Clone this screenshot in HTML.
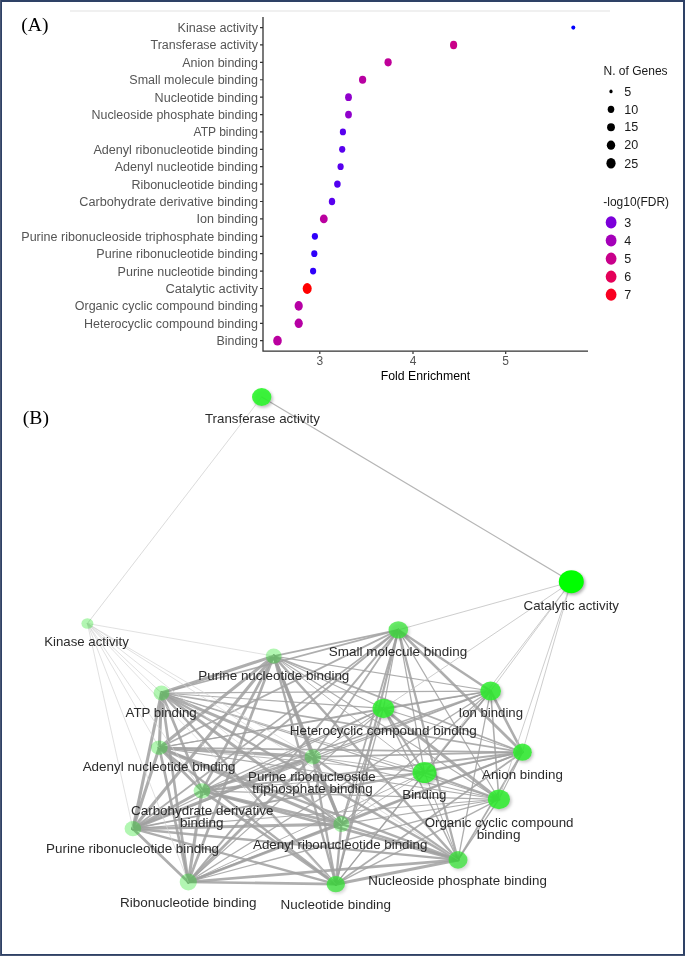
<!DOCTYPE html><html><head><meta charset="utf-8"><style>html,body{margin:0;padding:0;background:#fff;overflow:hidden}svg{display:block;will-change:transform}</style></head><body>
<svg width="685" height="956" viewBox="0 0 685 956">
<defs><filter id="bl" x="-50%" y="-50%" width="200%" height="200%"><feGaussianBlur stdDeviation="1.5"/></filter><filter id="sh" x="-50%" y="-50%" width="200%" height="200%"><feDropShadow dx="1.6" dy="1.8" stdDeviation="1.4" flood-color="#000" flood-opacity="0.28"/></filter></defs>
<rect x="0" y="0" width="685" height="956" fill="#fff"/>
<rect x="70" y="10" width="540" height="2" fill="#f0f0f0"/>
<g stroke="#333" stroke-width="1.3" fill="none"><path d="M263 17 V351.2 H588"/></g>
<path d="M260 27.54H263M260 44.94H263M260 62.34H263M260 79.73H263M260 97.13H263M260 114.53H263M260 131.93H263M260 149.33H263M260 166.72H263M260 184.12H263M260 201.52H263M260 218.92H263M260 236.32H263M260 253.71H263M260 271.11H263M260 288.51H263M260 305.91H263M260 323.31H263M260 340.70H263" stroke="#333" stroke-width="1.2"/>
<path d="M319.8 351.5V354M413.0 351.5V354M505.7 351.5V354" stroke="#333" stroke-width="1.2"/>
<g font-family="Liberation Sans, sans-serif" font-size="12.0" fill="#555555">
<text x="258" y="32.09" text-anchor="end" textLength="80.5" lengthAdjust="spacingAndGlyphs">Kinase activity</text>
<text x="258" y="49.49" text-anchor="end" textLength="107.5" lengthAdjust="spacingAndGlyphs">Transferase activity</text>
<text x="258" y="66.89" text-anchor="end" textLength="75.8" lengthAdjust="spacingAndGlyphs">Anion binding</text>
<text x="258" y="84.28" text-anchor="end" textLength="128.7" lengthAdjust="spacingAndGlyphs">Small molecule binding</text>
<text x="258" y="101.68" text-anchor="end" textLength="103.4" lengthAdjust="spacingAndGlyphs">Nucleotide binding</text>
<text x="258" y="119.08" text-anchor="end" textLength="166.5" lengthAdjust="spacingAndGlyphs">Nucleoside phosphate binding</text>
<text x="258" y="136.48" text-anchor="end" textLength="64.5" lengthAdjust="spacingAndGlyphs">ATP binding</text>
<text x="258" y="153.88" text-anchor="end" textLength="164.6" lengthAdjust="spacingAndGlyphs">Adenyl ribonucleotide binding</text>
<text x="258" y="171.27" text-anchor="end" textLength="143.3" lengthAdjust="spacingAndGlyphs">Adenyl nucleotide binding</text>
<text x="258" y="188.67" text-anchor="end" textLength="126.6" lengthAdjust="spacingAndGlyphs">Ribonucleotide binding</text>
<text x="258" y="206.07" text-anchor="end" textLength="178.7" lengthAdjust="spacingAndGlyphs">Carbohydrate derivative binding</text>
<text x="258" y="223.47" text-anchor="end" textLength="61.4" lengthAdjust="spacingAndGlyphs">Ion binding</text>
<text x="258" y="240.87" text-anchor="end" textLength="236.7" lengthAdjust="spacingAndGlyphs">Purine ribonucleoside triphosphate binding</text>
<text x="258" y="258.26" text-anchor="end" textLength="161.7" lengthAdjust="spacingAndGlyphs">Purine ribonucleotide binding</text>
<text x="258" y="275.66" text-anchor="end" textLength="140.4" lengthAdjust="spacingAndGlyphs">Purine nucleotide binding</text>
<text x="258" y="293.06" text-anchor="end" textLength="92.5" lengthAdjust="spacingAndGlyphs">Catalytic activity</text>
<text x="258" y="310.46" text-anchor="end" textLength="183.2" lengthAdjust="spacingAndGlyphs">Organic cyclic compound binding</text>
<text x="258" y="327.86" text-anchor="end" textLength="174.0" lengthAdjust="spacingAndGlyphs">Heterocyclic compound binding</text>
<text x="258" y="345.25" text-anchor="end" textLength="41.6" lengthAdjust="spacingAndGlyphs">Binding</text>
<text x="319.8" y="364.7" text-anchor="middle">3</text>
<text x="413.0" y="364.7" text-anchor="middle">4</text>
<text x="505.7" y="364.7" text-anchor="middle">5</text>
</g>
<text x="425.5" y="379.5" text-anchor="middle" font-family="Liberation Sans, sans-serif" font-size="12.0" fill="#000" textLength="89.5" lengthAdjust="spacingAndGlyphs">Fold Enrichment</text>
<ellipse cx="573.3" cy="27.54" rx="2.0" ry="2.1" fill="#0000ff"/>
<ellipse cx="453.6" cy="44.94" rx="3.6" ry="4.25" fill="#ca0088"/>
<ellipse cx="388.1" cy="62.34" rx="3.6" ry="4.1" fill="#bf0099"/>
<ellipse cx="362.6" cy="79.73" rx="3.6" ry="4.1" fill="#b800a2"/>
<ellipse cx="348.5" cy="97.13" rx="3.4" ry="3.9" fill="#9000cc"/>
<ellipse cx="348.5" cy="114.53" rx="3.4" ry="3.9" fill="#9000cc"/>
<ellipse cx="342.9" cy="131.93" rx="3.1" ry="3.4" fill="#5800ee"/>
<ellipse cx="342.2" cy="149.33" rx="3.1" ry="3.4" fill="#5800ee"/>
<ellipse cx="340.6" cy="166.72" rx="3.1" ry="3.4" fill="#5800ee"/>
<ellipse cx="337.4" cy="184.12" rx="3.3" ry="3.6" fill="#5200f0"/>
<ellipse cx="332.0" cy="201.52" rx="3.2" ry="3.8" fill="#5800ee"/>
<ellipse cx="323.8" cy="218.92" rx="3.9" ry="4.4" fill="#ba009f"/>
<ellipse cx="314.9" cy="236.32" rx="3.1" ry="3.4" fill="#2f00fa"/>
<ellipse cx="314.3" cy="253.71" rx="3.1" ry="3.4" fill="#2f00fa"/>
<ellipse cx="313.1" cy="271.11" rx="3.1" ry="3.4" fill="#2f00fa"/>
<ellipse cx="307.2" cy="288.51" rx="4.5" ry="5.4" fill="#ff0000"/>
<ellipse cx="298.7" cy="305.91" rx="4.1" ry="4.8" fill="#b600a4"/>
<ellipse cx="298.7" cy="323.31" rx="4.1" ry="4.8" fill="#b600a4"/>
<ellipse cx="277.5" cy="340.70" rx="4.3" ry="4.9" fill="#ba009f"/>
<g font-family="Liberation Sans, sans-serif" font-size="12.0" fill="#1a1a1a">
<text x="603.5" y="74.5" textLength="64.1" lengthAdjust="spacingAndGlyphs">N. of Genes</text>
<text x="603.3" y="205.7" textLength="65.8" lengthAdjust="spacingAndGlyphs">-log10(FDR)</text>
<text x="624.3" y="95.6" textLength="7.0" lengthAdjust="spacingAndGlyphs">5</text>
<text x="624.3" y="113.5" textLength="14.0" lengthAdjust="spacingAndGlyphs">10</text>
<text x="624.3" y="131.4" textLength="14.0" lengthAdjust="spacingAndGlyphs">15</text>
<text x="624.3" y="149.4" textLength="14.0" lengthAdjust="spacingAndGlyphs">20</text>
<text x="624.3" y="167.5" textLength="14.0" lengthAdjust="spacingAndGlyphs">25</text>
<text x="624.3" y="226.6" textLength="7.0" lengthAdjust="spacingAndGlyphs">3</text>
<text x="624.3" y="244.7" textLength="7.0" lengthAdjust="spacingAndGlyphs">4</text>
<text x="624.3" y="262.9" textLength="7.0" lengthAdjust="spacingAndGlyphs">5</text>
<text x="624.3" y="280.9" textLength="7.0" lengthAdjust="spacingAndGlyphs">6</text>
<text x="624.3" y="298.9" textLength="7.0" lengthAdjust="spacingAndGlyphs">7</text>
</g>
<ellipse cx="611" cy="91.4" rx="1.6" ry="1.9" fill="#000"/>
<ellipse cx="611" cy="109.3" rx="3.3" ry="3.6" fill="#000"/>
<ellipse cx="611" cy="127.2" rx="3.9" ry="4.0" fill="#000"/>
<ellipse cx="611" cy="145.2" rx="4.2" ry="4.65" fill="#000"/>
<ellipse cx="611" cy="163.3" rx="4.6" ry="5.2" fill="#000"/>
<ellipse cx="611.1" cy="222.4" rx="5.4" ry="6.1" fill="#7c00da"/>
<ellipse cx="611.1" cy="240.5" rx="5.4" ry="6.1" fill="#a400b9"/>
<ellipse cx="611.1" cy="258.7" rx="5.4" ry="6.1" fill="#c8008b"/>
<ellipse cx="611.1" cy="276.7" rx="5.4" ry="6.1" fill="#e40059"/>
<ellipse cx="611.1" cy="294.7" rx="5.4" ry="6.1" fill="#f90021"/>
<text x="21.3" y="31.2" font-family="Liberation Serif, serif" font-size="19.6" fill="#000">(A)</text>
<text x="22.8" y="423.9" font-family="Liberation Serif, serif" font-size="19.6" fill="#000">(B)</text>
<g stroke-linecap="round" fill="none">
<line x1="161.5" y1="693.0" x2="341.3" y2="824.1" stroke="#a0a0a0" stroke-opacity="0.85" stroke-width="3.10"/>
<line x1="161.5" y1="693.0" x2="159.3" y2="747.7" stroke="#a0a0a0" stroke-opacity="0.85" stroke-width="3.10"/>
<line x1="161.5" y1="693.0" x2="312.8" y2="756.9" stroke="#a0a0a0" stroke-opacity="0.85" stroke-width="3.10"/>
<line x1="161.5" y1="693.0" x2="132.9" y2="828.7" stroke="#a0a0a0" stroke-opacity="0.85" stroke-width="3.10"/>
<line x1="161.5" y1="693.0" x2="273.7" y2="656.1" stroke="#a0a0a0" stroke-opacity="0.85" stroke-width="3.10"/>
<line x1="341.3" y1="824.1" x2="159.3" y2="747.7" stroke="#a0a0a0" stroke-opacity="0.85" stroke-width="3.10"/>
<line x1="341.3" y1="824.1" x2="312.8" y2="756.9" stroke="#a0a0a0" stroke-opacity="0.85" stroke-width="3.10"/>
<line x1="341.3" y1="824.1" x2="132.9" y2="828.7" stroke="#a0a0a0" stroke-opacity="0.85" stroke-width="3.10"/>
<line x1="341.3" y1="824.1" x2="273.7" y2="656.1" stroke="#a0a0a0" stroke-opacity="0.85" stroke-width="3.10"/>
<line x1="159.3" y1="747.7" x2="312.8" y2="756.9" stroke="#a0a0a0" stroke-opacity="0.85" stroke-width="3.10"/>
<line x1="159.3" y1="747.7" x2="132.9" y2="828.7" stroke="#a0a0a0" stroke-opacity="0.85" stroke-width="3.10"/>
<line x1="159.3" y1="747.7" x2="273.7" y2="656.1" stroke="#a0a0a0" stroke-opacity="0.85" stroke-width="3.10"/>
<line x1="312.8" y1="756.9" x2="132.9" y2="828.7" stroke="#a0a0a0" stroke-opacity="0.85" stroke-width="3.10"/>
<line x1="312.8" y1="756.9" x2="273.7" y2="656.1" stroke="#a0a0a0" stroke-opacity="0.85" stroke-width="3.10"/>
<line x1="132.9" y1="828.7" x2="273.7" y2="656.1" stroke="#a0a0a0" stroke-opacity="0.85" stroke-width="3.10"/>
<line x1="188.3" y1="882.0" x2="202.0" y2="790.8" stroke="#a0a0a0" stroke-opacity="0.85" stroke-width="3.10"/>
<line x1="335.8" y1="884.2" x2="458.0" y2="859.9" stroke="#a0a0a0" stroke-opacity="0.85" stroke-width="3.10"/>
<line x1="383.4" y1="708.4" x2="498.9" y2="799.3" stroke="#a0a0a0" stroke-opacity="0.85" stroke-width="3.10"/>
<line x1="188.3" y1="882.0" x2="335.8" y2="884.2" stroke="#a0a0a0" stroke-opacity="0.85" stroke-width="2.72"/>
<line x1="188.3" y1="882.0" x2="458.0" y2="859.9" stroke="#a0a0a0" stroke-opacity="0.85" stroke-width="2.72"/>
<line x1="202.0" y1="790.8" x2="335.8" y2="884.2" stroke="#a0a0a0" stroke-opacity="0.85" stroke-width="2.72"/>
<line x1="202.0" y1="790.8" x2="458.0" y2="859.9" stroke="#a0a0a0" stroke-opacity="0.85" stroke-width="2.72"/>
<line x1="398.3" y1="629.9" x2="522.4" y2="752.2" stroke="#a0a0a0" stroke-opacity="0.85" stroke-width="2.70"/>
<line x1="161.5" y1="693.0" x2="188.3" y2="882.0" stroke="#a0a0a0" stroke-opacity="0.85" stroke-width="2.69"/>
<line x1="161.5" y1="693.0" x2="202.0" y2="790.8" stroke="#a0a0a0" stroke-opacity="0.85" stroke-width="2.69"/>
<line x1="341.3" y1="824.1" x2="188.3" y2="882.0" stroke="#a0a0a0" stroke-opacity="0.85" stroke-width="2.69"/>
<line x1="341.3" y1="824.1" x2="202.0" y2="790.8" stroke="#a0a0a0" stroke-opacity="0.85" stroke-width="2.69"/>
<line x1="159.3" y1="747.7" x2="188.3" y2="882.0" stroke="#a0a0a0" stroke-opacity="0.85" stroke-width="2.69"/>
<line x1="159.3" y1="747.7" x2="202.0" y2="790.8" stroke="#a0a0a0" stroke-opacity="0.85" stroke-width="2.69"/>
<line x1="312.8" y1="756.9" x2="188.3" y2="882.0" stroke="#a0a0a0" stroke-opacity="0.85" stroke-width="2.69"/>
<line x1="312.8" y1="756.9" x2="202.0" y2="790.8" stroke="#a0a0a0" stroke-opacity="0.85" stroke-width="2.69"/>
<line x1="132.9" y1="828.7" x2="188.3" y2="882.0" stroke="#a0a0a0" stroke-opacity="0.85" stroke-width="2.69"/>
<line x1="132.9" y1="828.7" x2="202.0" y2="790.8" stroke="#a0a0a0" stroke-opacity="0.85" stroke-width="2.69"/>
<line x1="273.7" y1="656.1" x2="188.3" y2="882.0" stroke="#a0a0a0" stroke-opacity="0.85" stroke-width="2.69"/>
<line x1="273.7" y1="656.1" x2="202.0" y2="790.8" stroke="#a0a0a0" stroke-opacity="0.85" stroke-width="2.69"/>
<line x1="522.4" y1="752.2" x2="490.6" y2="691.0" stroke="#a0a0a0" stroke-opacity="0.85" stroke-width="2.60"/>
<line x1="398.3" y1="629.9" x2="490.6" y2="691.0" stroke="#a0a0a0" stroke-opacity="0.85" stroke-width="2.40"/>
<line x1="161.5" y1="693.0" x2="335.8" y2="884.2" stroke="#a0a0a0" stroke-opacity="0.85" stroke-width="2.37"/>
<line x1="161.5" y1="693.0" x2="458.0" y2="859.9" stroke="#a0a0a0" stroke-opacity="0.85" stroke-width="2.37"/>
<line x1="341.3" y1="824.1" x2="335.8" y2="884.2" stroke="#a0a0a0" stroke-opacity="0.85" stroke-width="2.37"/>
<line x1="341.3" y1="824.1" x2="458.0" y2="859.9" stroke="#a0a0a0" stroke-opacity="0.85" stroke-width="2.37"/>
<line x1="159.3" y1="747.7" x2="335.8" y2="884.2" stroke="#a0a0a0" stroke-opacity="0.85" stroke-width="2.37"/>
<line x1="159.3" y1="747.7" x2="458.0" y2="859.9" stroke="#a0a0a0" stroke-opacity="0.85" stroke-width="2.37"/>
<line x1="312.8" y1="756.9" x2="335.8" y2="884.2" stroke="#a0a0a0" stroke-opacity="0.85" stroke-width="2.37"/>
<line x1="312.8" y1="756.9" x2="458.0" y2="859.9" stroke="#a0a0a0" stroke-opacity="0.85" stroke-width="2.37"/>
<line x1="132.9" y1="828.7" x2="335.8" y2="884.2" stroke="#a0a0a0" stroke-opacity="0.85" stroke-width="2.37"/>
<line x1="132.9" y1="828.7" x2="458.0" y2="859.9" stroke="#a0a0a0" stroke-opacity="0.85" stroke-width="2.37"/>
<line x1="273.7" y1="656.1" x2="335.8" y2="884.2" stroke="#a0a0a0" stroke-opacity="0.85" stroke-width="2.37"/>
<line x1="273.7" y1="656.1" x2="458.0" y2="859.9" stroke="#a0a0a0" stroke-opacity="0.85" stroke-width="2.37"/>
<line x1="335.8" y1="884.2" x2="398.3" y2="629.9" stroke="#a0a0a0" stroke-opacity="0.85" stroke-width="2.24"/>
<line x1="458.0" y1="859.9" x2="398.3" y2="629.9" stroke="#a0a0a0" stroke-opacity="0.85" stroke-width="2.24"/>
<line x1="383.4" y1="708.4" x2="424.5" y2="772.6" stroke="#a0a0a0" stroke-opacity="0.85" stroke-width="2.08"/>
<line x1="498.9" y1="799.3" x2="424.5" y2="772.6" stroke="#a0a0a0" stroke-opacity="0.85" stroke-width="2.08"/>
<line x1="188.3" y1="882.0" x2="398.3" y2="629.9" stroke="#a0a0a0" stroke-opacity="0.85" stroke-width="1.99"/>
<line x1="188.3" y1="882.0" x2="522.4" y2="752.2" stroke="#a0a0a0" stroke-opacity="0.85" stroke-width="1.99"/>
<line x1="202.0" y1="790.8" x2="398.3" y2="629.9" stroke="#a0a0a0" stroke-opacity="0.85" stroke-width="1.99"/>
<line x1="202.0" y1="790.8" x2="522.4" y2="752.2" stroke="#a0a0a0" stroke-opacity="0.85" stroke-width="1.99"/>
<line x1="490.6" y1="691.0" x2="424.5" y2="772.6" stroke="#a0a0a0" stroke-opacity="0.85" stroke-width="1.83"/>
<line x1="335.8" y1="884.2" x2="522.4" y2="752.2" stroke="#a0a0a0" stroke-opacity="0.85" stroke-width="1.82"/>
<line x1="458.0" y1="859.9" x2="522.4" y2="752.2" stroke="#a0a0a0" stroke-opacity="0.85" stroke-width="1.82"/>
<line x1="161.5" y1="693.0" x2="398.3" y2="629.9" stroke="#a0a0a0" stroke-opacity="0.85" stroke-width="1.75"/>
<line x1="161.5" y1="693.0" x2="522.4" y2="752.2" stroke="#a0a0a0" stroke-opacity="0.85" stroke-width="1.75"/>
<line x1="341.3" y1="824.1" x2="398.3" y2="629.9" stroke="#a0a0a0" stroke-opacity="0.85" stroke-width="1.75"/>
<line x1="341.3" y1="824.1" x2="522.4" y2="752.2" stroke="#a0a0a0" stroke-opacity="0.85" stroke-width="1.75"/>
<line x1="159.3" y1="747.7" x2="398.3" y2="629.9" stroke="#a0a0a0" stroke-opacity="0.85" stroke-width="1.75"/>
<line x1="159.3" y1="747.7" x2="522.4" y2="752.2" stroke="#a0a0a0" stroke-opacity="0.85" stroke-width="1.75"/>
<line x1="312.8" y1="756.9" x2="398.3" y2="629.9" stroke="#a0a0a0" stroke-opacity="0.85" stroke-width="1.75"/>
<line x1="312.8" y1="756.9" x2="522.4" y2="752.2" stroke="#a0a0a0" stroke-opacity="0.85" stroke-width="1.75"/>
<line x1="132.9" y1="828.7" x2="398.3" y2="629.9" stroke="#a0a0a0" stroke-opacity="0.85" stroke-width="1.75"/>
<line x1="132.9" y1="828.7" x2="522.4" y2="752.2" stroke="#a0a0a0" stroke-opacity="0.85" stroke-width="1.75"/>
<line x1="273.7" y1="656.1" x2="398.3" y2="629.9" stroke="#a0a0a0" stroke-opacity="0.85" stroke-width="1.75"/>
<line x1="273.7" y1="656.1" x2="522.4" y2="752.2" stroke="#a0a0a0" stroke-opacity="0.85" stroke-width="1.75"/>
<line x1="490.6" y1="691.0" x2="383.4" y2="708.4" stroke="#a0a0a0" stroke-opacity="0.85" stroke-width="1.59"/>
<line x1="490.6" y1="691.0" x2="498.9" y2="799.3" stroke="#a0a0a0" stroke-opacity="0.85" stroke-width="1.59"/>
<line x1="188.3" y1="882.0" x2="490.6" y2="691.0" stroke="#a0a0a0" stroke-opacity="0.85" stroke-width="1.39"/>
<line x1="202.0" y1="790.8" x2="490.6" y2="691.0" stroke="#a0a0a0" stroke-opacity="0.85" stroke-width="1.39"/>
<line x1="335.8" y1="884.2" x2="383.4" y2="708.4" stroke="#a0a0a0" stroke-opacity="0.85" stroke-width="1.37"/>
<line x1="335.8" y1="884.2" x2="498.9" y2="799.3" stroke="#a0a0a0" stroke-opacity="0.85" stroke-width="1.37"/>
<line x1="458.0" y1="859.9" x2="383.4" y2="708.4" stroke="#a0a0a0" stroke-opacity="0.85" stroke-width="1.37"/>
<line x1="458.0" y1="859.9" x2="498.9" y2="799.3" stroke="#a0a0a0" stroke-opacity="0.85" stroke-width="1.37"/>
<line x1="335.8" y1="884.2" x2="490.6" y2="691.0" stroke="#a0a0a0" stroke-opacity="0.85" stroke-width="1.31"/>
<line x1="458.0" y1="859.9" x2="490.6" y2="691.0" stroke="#a0a0a0" stroke-opacity="0.85" stroke-width="1.31"/>
<line x1="398.3" y1="629.9" x2="424.5" y2="772.6" stroke="#a0a0a0" stroke-opacity="0.85" stroke-width="1.29"/>
<line x1="522.4" y1="752.2" x2="424.5" y2="772.6" stroke="#a0a0a0" stroke-opacity="0.85" stroke-width="1.29"/>
<line x1="161.5" y1="693.0" x2="490.6" y2="691.0" stroke="#a0a0a0" stroke-opacity="0.85" stroke-width="1.25"/>
<line x1="341.3" y1="824.1" x2="490.6" y2="691.0" stroke="#a0a0a0" stroke-opacity="0.85" stroke-width="1.25"/>
<line x1="159.3" y1="747.7" x2="490.6" y2="691.0" stroke="#a0a0a0" stroke-opacity="0.85" stroke-width="1.25"/>
<line x1="312.8" y1="756.9" x2="490.6" y2="691.0" stroke="#a0a0a0" stroke-opacity="0.85" stroke-width="1.25"/>
<line x1="132.9" y1="828.7" x2="490.6" y2="691.0" stroke="#a0a0a0" stroke-opacity="0.85" stroke-width="1.25"/>
<line x1="273.7" y1="656.1" x2="490.6" y2="691.0" stroke="#a0a0a0" stroke-opacity="0.85" stroke-width="1.25"/>
<line x1="188.3" y1="882.0" x2="383.4" y2="708.4" stroke="#a0a0a0" stroke-opacity="0.85" stroke-width="1.25"/>
<line x1="188.3" y1="882.0" x2="498.9" y2="799.3" stroke="#a0a0a0" stroke-opacity="0.85" stroke-width="1.25"/>
<line x1="202.0" y1="790.8" x2="383.4" y2="708.4" stroke="#a0a0a0" stroke-opacity="0.85" stroke-width="1.25"/>
<line x1="202.0" y1="790.8" x2="498.9" y2="799.3" stroke="#a0a0a0" stroke-opacity="0.85" stroke-width="1.25"/>
<line x1="571.3" y1="581.7" x2="261.7" y2="397.0" stroke="#a8a8a8" stroke-opacity="0.85" stroke-width="1.20"/>
<line x1="398.3" y1="629.9" x2="383.4" y2="708.4" stroke="#a0a0a0" stroke-opacity="0.85" stroke-width="1.19"/>
<line x1="398.3" y1="629.9" x2="498.9" y2="799.3" stroke="#a0a0a0" stroke-opacity="0.85" stroke-width="1.19"/>
<line x1="161.5" y1="693.0" x2="383.4" y2="708.4" stroke="#a0a0a0" stroke-opacity="0.85" stroke-width="1.13"/>
<line x1="161.5" y1="693.0" x2="498.9" y2="799.3" stroke="#a0a0a0" stroke-opacity="0.85" stroke-width="1.13"/>
<line x1="341.3" y1="824.1" x2="383.4" y2="708.4" stroke="#a0a0a0" stroke-opacity="0.85" stroke-width="1.13"/>
<line x1="341.3" y1="824.1" x2="498.9" y2="799.3" stroke="#a0a0a0" stroke-opacity="0.85" stroke-width="1.13"/>
<line x1="159.3" y1="747.7" x2="383.4" y2="708.4" stroke="#a0a0a0" stroke-opacity="0.85" stroke-width="1.13"/>
<line x1="159.3" y1="747.7" x2="498.9" y2="799.3" stroke="#a0a0a0" stroke-opacity="0.85" stroke-width="1.13"/>
<line x1="312.8" y1="756.9" x2="383.4" y2="708.4" stroke="#a0a0a0" stroke-opacity="0.85" stroke-width="1.13"/>
<line x1="312.8" y1="756.9" x2="498.9" y2="799.3" stroke="#a0a0a0" stroke-opacity="0.85" stroke-width="1.13"/>
<line x1="132.9" y1="828.7" x2="383.4" y2="708.4" stroke="#a0a0a0" stroke-opacity="0.85" stroke-width="1.13"/>
<line x1="132.9" y1="828.7" x2="498.9" y2="799.3" stroke="#a0a0a0" stroke-opacity="0.85" stroke-width="1.13"/>
<line x1="273.7" y1="656.1" x2="383.4" y2="708.4" stroke="#a0a0a0" stroke-opacity="0.85" stroke-width="1.13"/>
<line x1="273.7" y1="656.1" x2="498.9" y2="799.3" stroke="#a0a0a0" stroke-opacity="0.85" stroke-width="1.13"/>
<line x1="522.4" y1="752.2" x2="383.4" y2="708.4" stroke="#a0a0a0" stroke-opacity="0.85" stroke-width="1.05"/>
<line x1="522.4" y1="752.2" x2="498.9" y2="799.3" stroke="#a0a0a0" stroke-opacity="0.85" stroke-width="1.05"/>
<line x1="335.8" y1="884.2" x2="424.5" y2="772.6" stroke="#a0a0a0" stroke-opacity="0.85" stroke-width="1.03"/>
<line x1="458.0" y1="859.9" x2="424.5" y2="772.6" stroke="#a0a0a0" stroke-opacity="0.85" stroke-width="1.03"/>
<line x1="571.3" y1="581.7" x2="398.3" y2="629.9" stroke="#c4c4c4" stroke-opacity="0.85" stroke-width="1.00"/>
<line x1="571.3" y1="581.7" x2="383.4" y2="708.4" stroke="#c4c4c4" stroke-opacity="0.85" stroke-width="1.00"/>
<line x1="571.3" y1="581.7" x2="490.6" y2="691.0" stroke="#c4c4c4" stroke-opacity="0.85" stroke-width="1.00"/>
<line x1="571.3" y1="581.7" x2="424.5" y2="772.6" stroke="#c4c4c4" stroke-opacity="0.85" stroke-width="1.00"/>
<line x1="571.3" y1="581.7" x2="498.9" y2="799.3" stroke="#c4c4c4" stroke-opacity="0.85" stroke-width="1.00"/>
<line x1="571.3" y1="581.7" x2="522.4" y2="752.2" stroke="#c4c4c4" stroke-opacity="0.85" stroke-width="1.00"/>
<line x1="188.3" y1="882.0" x2="424.5" y2="772.6" stroke="#a0a0a0" stroke-opacity="0.85" stroke-width="0.95"/>
<line x1="202.0" y1="790.8" x2="424.5" y2="772.6" stroke="#a0a0a0" stroke-opacity="0.85" stroke-width="0.95"/>
<line x1="87.4" y1="623.5" x2="261.7" y2="397.0" stroke="#d0d0d0" stroke-opacity="0.85" stroke-width="0.90"/>
<line x1="161.5" y1="693.0" x2="424.5" y2="772.6" stroke="#a0a0a0" stroke-opacity="0.85" stroke-width="0.88"/>
<line x1="341.3" y1="824.1" x2="424.5" y2="772.6" stroke="#a0a0a0" stroke-opacity="0.85" stroke-width="0.88"/>
<line x1="159.3" y1="747.7" x2="424.5" y2="772.6" stroke="#a0a0a0" stroke-opacity="0.85" stroke-width="0.88"/>
<line x1="312.8" y1="756.9" x2="424.5" y2="772.6" stroke="#a0a0a0" stroke-opacity="0.85" stroke-width="0.88"/>
<line x1="132.9" y1="828.7" x2="424.5" y2="772.6" stroke="#a0a0a0" stroke-opacity="0.85" stroke-width="0.88"/>
<line x1="273.7" y1="656.1" x2="424.5" y2="772.6" stroke="#a0a0a0" stroke-opacity="0.85" stroke-width="0.88"/>
<line x1="87.4" y1="623.5" x2="273.7" y2="656.1" stroke="#d3d3d3" stroke-opacity="0.85" stroke-width="0.80"/>
<line x1="87.4" y1="623.5" x2="161.5" y2="693.0" stroke="#d3d3d3" stroke-opacity="0.85" stroke-width="0.80"/>
<line x1="87.4" y1="623.5" x2="159.3" y2="747.7" stroke="#d3d3d3" stroke-opacity="0.85" stroke-width="0.80"/>
<line x1="87.4" y1="623.5" x2="132.9" y2="828.7" stroke="#d3d3d3" stroke-opacity="0.85" stroke-width="0.80"/>
<line x1="87.4" y1="623.5" x2="188.3" y2="882.0" stroke="#d3d3d3" stroke-opacity="0.85" stroke-width="0.80"/>
<line x1="87.4" y1="623.5" x2="202.0" y2="790.8" stroke="#d3d3d3" stroke-opacity="0.85" stroke-width="0.80"/>
<line x1="87.4" y1="623.5" x2="341.3" y2="824.1" stroke="#d3d3d3" stroke-opacity="0.85" stroke-width="0.80"/>
<line x1="87.4" y1="623.5" x2="312.8" y2="756.9" stroke="#d3d3d3" stroke-opacity="0.85" stroke-width="0.80"/>
<line x1="87.4" y1="623.5" x2="335.8" y2="884.2" stroke="#d3d3d3" stroke-opacity="0.85" stroke-width="0.80"/>
<line x1="87.4" y1="623.5" x2="458.0" y2="859.9" stroke="#d3d3d3" stroke-opacity="0.85" stroke-width="0.80"/>
</g>
<ellipse cx="263.3" cy="398.8" rx="9.7" ry="9.0" fill="#000" fill-opacity="0.25" filter="url(#bl)"/>
<ellipse cx="261.7" cy="397.0" rx="9.7" ry="9.0" fill="#fff" fill-opacity="0.6"/>
<ellipse cx="261.7" cy="397.0" rx="9.7" ry="9.0" fill="#00f400" fill-opacity="0.75"/>
<ellipse cx="572.9" cy="583.5" rx="12.5" ry="11.5" fill="#000" fill-opacity="0.3" filter="url(#bl)"/>
<ellipse cx="571.3" cy="581.7" rx="12.5" ry="11.5" fill="#fff" fill-opacity="0"/>
<ellipse cx="571.3" cy="581.7" rx="12.5" ry="11.5" fill="#00ff00" fill-opacity="1.0"/>
<ellipse cx="87.4" cy="623.5" rx="6.0" ry="5.3" fill="#00e000" fill-opacity="0.3"/>
<ellipse cx="399.90000000000003" cy="631.6999999999999" rx="9.8" ry="8.6" fill="#000" fill-opacity="0.15" filter="url(#bl)"/>
<ellipse cx="398.3" cy="629.9" rx="9.8" ry="8.6" fill="#fff" fill-opacity="0.3"/>
<ellipse cx="398.3" cy="629.9" rx="9.8" ry="8.6" fill="#00e000" fill-opacity="0.58"/>
<ellipse cx="273.7" cy="656.1" rx="8.0" ry="7.5" fill="#00e000" fill-opacity="0.3"/>
<ellipse cx="161.5" cy="693.0" rx="8.0" ry="7.5" fill="#00e000" fill-opacity="0.3"/>
<ellipse cx="492.20000000000005" cy="692.8" rx="10.4" ry="9.6" fill="#000" fill-opacity="0.22" filter="url(#bl)"/>
<ellipse cx="490.6" cy="691.0" rx="10.4" ry="9.6" fill="#fff" fill-opacity="0.5"/>
<ellipse cx="490.6" cy="691.0" rx="10.4" ry="9.6" fill="#00eb00" fill-opacity="0.7"/>
<ellipse cx="385.0" cy="710.1999999999999" rx="10.9" ry="9.75" fill="#000" fill-opacity="0.22" filter="url(#bl)"/>
<ellipse cx="383.4" cy="708.4" rx="10.9" ry="9.75" fill="#fff" fill-opacity="0.5"/>
<ellipse cx="383.4" cy="708.4" rx="10.9" ry="9.75" fill="#00eb00" fill-opacity="0.7"/>
<ellipse cx="524.0" cy="754.0" rx="9.4" ry="8.6" fill="#000" fill-opacity="0.22" filter="url(#bl)"/>
<ellipse cx="522.4" cy="752.2" rx="9.4" ry="8.6" fill="#fff" fill-opacity="0.5"/>
<ellipse cx="522.4" cy="752.2" rx="9.4" ry="8.6" fill="#00eb00" fill-opacity="0.7"/>
<ellipse cx="159.3" cy="747.7" rx="8.4" ry="7.2" fill="#00e000" fill-opacity="0.3"/>
<ellipse cx="312.8" cy="756.9" rx="8.2" ry="7.7" fill="#00e000" fill-opacity="0.3"/>
<ellipse cx="426.1" cy="774.4" rx="12.0" ry="10.5" fill="#000" fill-opacity="0.22" filter="url(#bl)"/>
<ellipse cx="424.5" cy="772.6" rx="12.0" ry="10.5" fill="#fff" fill-opacity="0.5"/>
<ellipse cx="424.5" cy="772.6" rx="12.0" ry="10.5" fill="#00eb00" fill-opacity="0.7"/>
<ellipse cx="202.0" cy="790.8" rx="8.4" ry="7.6" fill="#00e000" fill-opacity="0.3"/>
<ellipse cx="500.5" cy="801.0999999999999" rx="11.1" ry="9.9" fill="#000" fill-opacity="0.22" filter="url(#bl)"/>
<ellipse cx="498.9" cy="799.3" rx="11.1" ry="9.9" fill="#fff" fill-opacity="0.5"/>
<ellipse cx="498.9" cy="799.3" rx="11.1" ry="9.9" fill="#00eb00" fill-opacity="0.7"/>
<ellipse cx="341.3" cy="824.1" rx="8.0" ry="8.0" fill="#00e000" fill-opacity="0.3"/>
<ellipse cx="132.9" cy="828.7" rx="8.3" ry="7.6" fill="#00e000" fill-opacity="0.3"/>
<ellipse cx="459.6" cy="861.6999999999999" rx="9.5" ry="8.8" fill="#000" fill-opacity="0.15" filter="url(#bl)"/>
<ellipse cx="458.0" cy="859.9" rx="9.5" ry="8.8" fill="#fff" fill-opacity="0.3"/>
<ellipse cx="458.0" cy="859.9" rx="9.5" ry="8.8" fill="#00e000" fill-opacity="0.58"/>
<ellipse cx="188.3" cy="882.0" rx="8.6" ry="8.4" fill="#00e000" fill-opacity="0.3"/>
<ellipse cx="337.40000000000003" cy="886.0" rx="9.2" ry="8.1" fill="#000" fill-opacity="0.15" filter="url(#bl)"/>
<ellipse cx="335.8" cy="884.2" rx="9.2" ry="8.1" fill="#fff" fill-opacity="0.3"/>
<ellipse cx="335.8" cy="884.2" rx="9.2" ry="8.1" fill="#00e000" fill-opacity="0.58"/>
<g font-family="Liberation Sans, sans-serif" font-size="13" fill="#2b2b2b">
<text x="262.4" y="422.5" text-anchor="middle" textLength="114.9" lengthAdjust="spacingAndGlyphs">Transferase activity</text>
<text x="571.3" y="610.1" text-anchor="middle" textLength="95.4" lengthAdjust="spacingAndGlyphs">Catalytic activity</text>
<text x="86.5" y="646.1" text-anchor="middle" textLength="84.5" lengthAdjust="spacingAndGlyphs">Kinase activity</text>
<text x="398.0" y="656.0" text-anchor="middle" textLength="138.4" lengthAdjust="spacingAndGlyphs">Small molecule binding</text>
<text x="273.8" y="680.4" text-anchor="middle" textLength="151.1" lengthAdjust="spacingAndGlyphs">Purine nucleotide binding</text>
<text x="161.1" y="717.1" text-anchor="middle" textLength="71.1" lengthAdjust="spacingAndGlyphs">ATP binding</text>
<text x="490.8" y="716.7" text-anchor="middle" textLength="64.5" lengthAdjust="spacingAndGlyphs">Ion binding</text>
<text x="383.2" y="734.5" text-anchor="middle" textLength="187.0" lengthAdjust="spacingAndGlyphs">Heterocyclic compound binding</text>
<text x="522.4" y="778.5" text-anchor="middle" textLength="80.8" lengthAdjust="spacingAndGlyphs">Anion binding</text>
<text x="159.1" y="771.1" text-anchor="middle" textLength="152.9" lengthAdjust="spacingAndGlyphs">Adenyl nucleotide binding</text>
<text x="311.9" y="780.9" text-anchor="middle" textLength="127.6" lengthAdjust="spacingAndGlyphs">Purine ribonucleoside</text>
<text x="312.4" y="792.8" text-anchor="middle" textLength="120.4" lengthAdjust="spacingAndGlyphs">triphosphate binding</text>
<text x="424.4" y="799.2" text-anchor="middle" textLength="44.2" lengthAdjust="spacingAndGlyphs">Binding</text>
<text x="202.2" y="814.5" text-anchor="middle" textLength="142.3" lengthAdjust="spacingAndGlyphs">Carbohydrate derivative</text>
<text x="201.8" y="826.8" text-anchor="middle" textLength="43.5" lengthAdjust="spacingAndGlyphs">binding</text>
<text x="499.1" y="827.1" text-anchor="middle" textLength="148.9" lengthAdjust="spacingAndGlyphs">Organic cyclic compound</text>
<text x="498.6" y="838.8" text-anchor="middle" textLength="43.8" lengthAdjust="spacingAndGlyphs">binding</text>
<text x="340.2" y="848.5" text-anchor="middle" textLength="174.3" lengthAdjust="spacingAndGlyphs">Adenyl ribonucleotide binding</text>
<text x="132.6" y="853.0" text-anchor="middle" textLength="173.0" lengthAdjust="spacingAndGlyphs">Purine ribonucleotide binding</text>
<text x="457.6" y="884.9" text-anchor="middle" textLength="178.5" lengthAdjust="spacingAndGlyphs">Nucleoside phosphate binding</text>
<text x="188.2" y="906.7" text-anchor="middle" textLength="136.5" lengthAdjust="spacingAndGlyphs">Ribonucleotide binding</text>
<text x="335.8" y="909.0" text-anchor="middle" textLength="110.5" lengthAdjust="spacingAndGlyphs">Nucleotide binding</text>
</g>
<path d="M0 0H685V956H0Z M2 2V954H683V2Z" fill="#2e4166" fill-rule="evenodd"/>
<rect x="0" y="0" width="1" height="956" fill="#475573"/><rect x="0" y="955" width="685" height="1" fill="#475573"/>
</svg></body></html>
